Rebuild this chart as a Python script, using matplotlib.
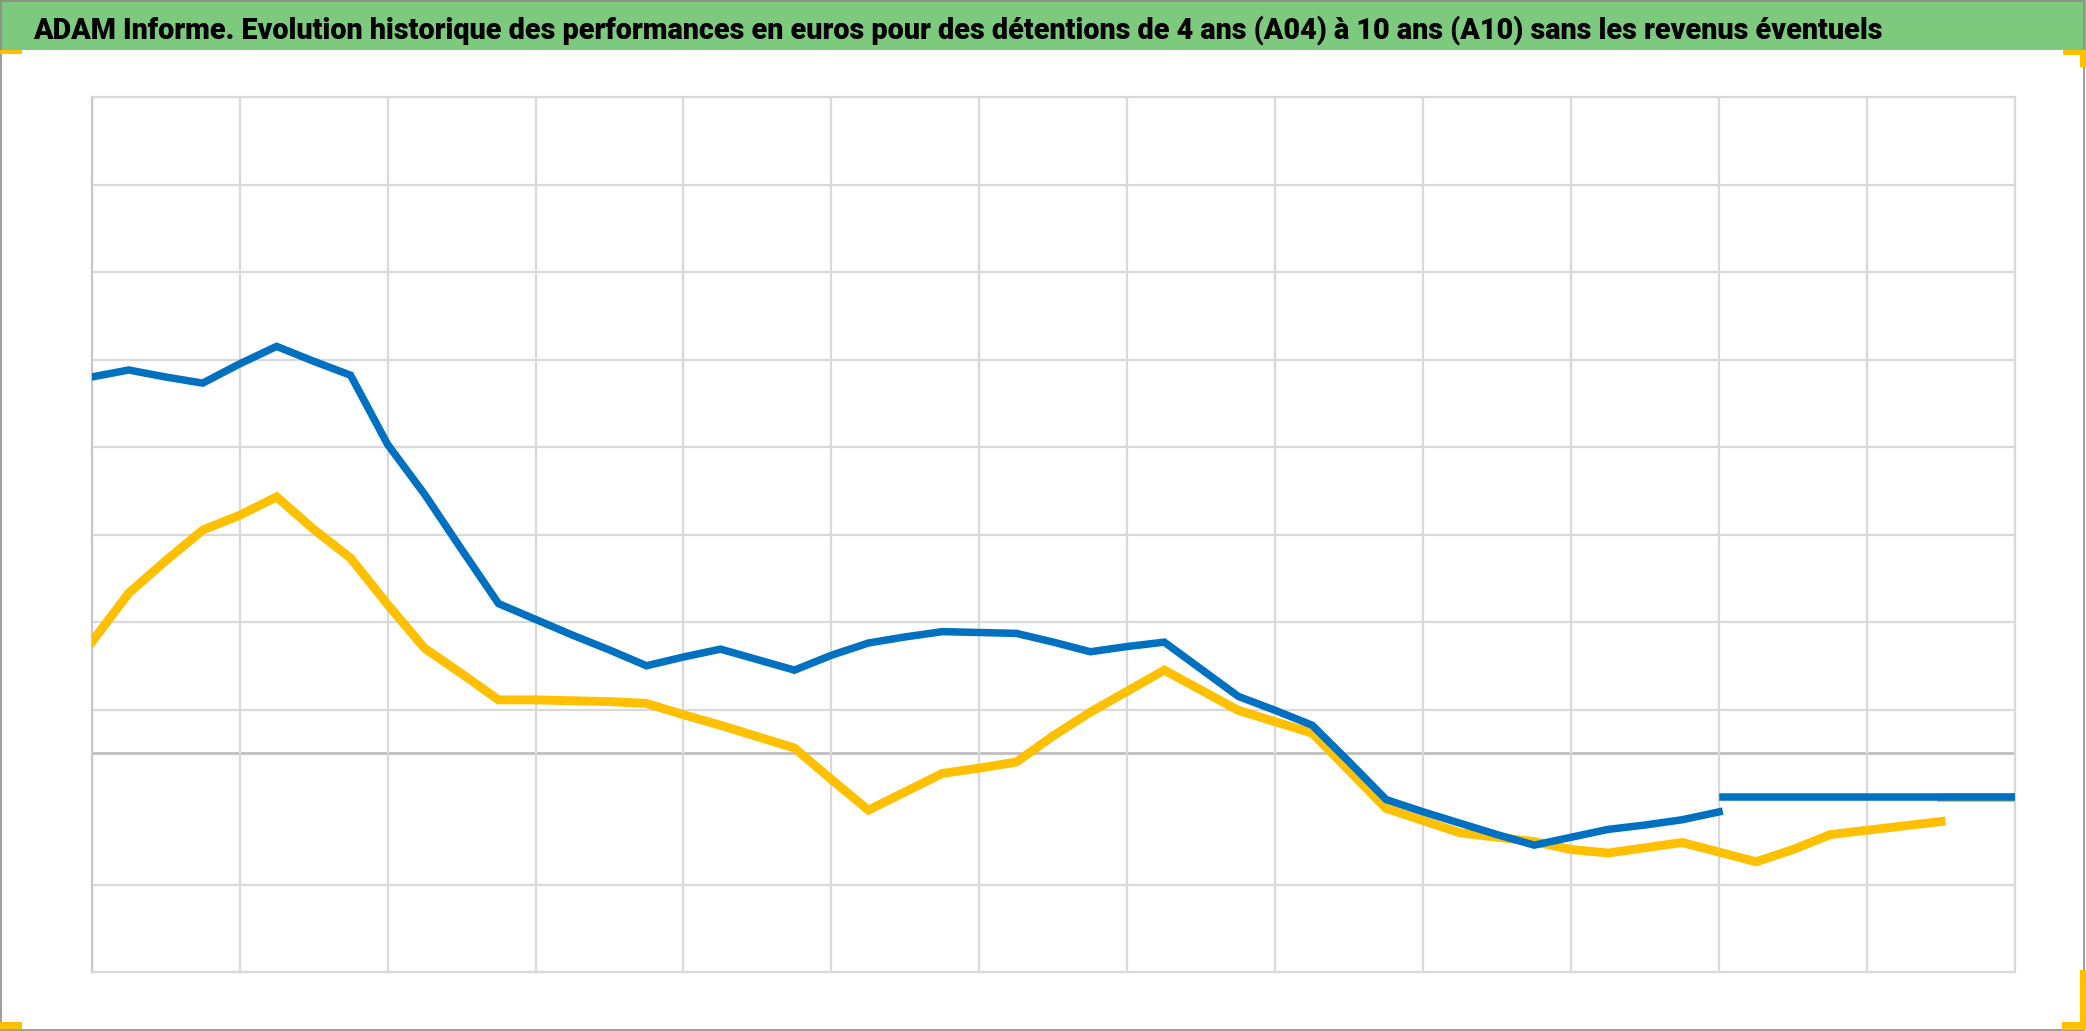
import numpy as np
import matplotlib
matplotlib.use("Agg")
import matplotlib.pyplot as plt
from matplotlib.patches import Rectangle

# titre du graphique
title_text = ("ADAM Informe. Evolution historique des performances en euros pour des "
              "détentions de 4 ans (A04) à 10 ans (A10) sans les revenus éventuels")

# valeurs trimestrielles (échelle sans étiquettes)
a04_values = [86.0, 87.6, 86.0, 84.6, 89.0, 93.0, 89.6, 86.4, 70.6, 59.2,
              46.6, 34.2, 30.6, 27.0, 23.6, 20.0, 22.0, 23.8, 21.4, 19.0,
              22.4, 25.2, 26.6, 27.8, 27.6, 27.4, 25.4, 23.2, 24.4, 25.4,
              19.2, 13.0, 9.8, 6.4, -2.0, -10.6, -13.4, -16.0, -18.6, -21.0,
              -19.2, -17.4, -16.4, -15.2, -13.4]
a10_values = [25.4, 36.6, 44.0, 51.0, 54.4, 58.6, 51.2, 44.6, 34.0, 24.0,
              18.2, 12.2, 12.2, 12.0, 11.8, 11.4, 8.8, 6.4, 3.8, 1.2,
              -6.0, -13.0, -8.8, -4.6, -3.4, -2.0, 4.0, 9.4, 14.2, 19.0,
              14.4, 9.8, 7.2, 4.6, -4.0, -12.6, -15.4, -18.2, -19.2, -20.2,
              -22.0, -22.8, -21.6, -20.4, -22.6, -24.8, -22.0, -18.6, -17.6, -16.6,
              -15.6]
# paliers de fin de série
a04_plateau_q = [44.1, 52]
a04_plateau = [-10, -10]
a10_plateau_q = [50, 52]
a10_plateau = [-10, -10]

y_grid = [-50, -30, 10, 30, 50, 70, 90, 110, 130, 150]
n_quarters = 52

BLUE = "#0070C0"
GOLD = "#FFC000"
GRID = "#D9D9D9"

W, H = 2086, 1031
fig = plt.figure(figsize=(W / 100, H / 100), dpi=100)

# bandeau vert + bordure
fig.patches.append(Rectangle((0, 1 - 50 / H), 1, 50 / H, transform=fig.transFigure,
                             facecolor="#7DC97E", edgecolor="none", zorder=0))
fig.patches.append(Rectangle((0.5 / W, 1.5 / H), 1 - 3 / W, 1 - 2.5 / H, transform=fig.transFigure,
                             facecolor="none", edgecolor="#8C8C8C", lw=1.2, zorder=1))

# coins orange
def px_rect(x, y, w, h):
    fig.patches.append(Rectangle((x / W, 1 - (y + h) / H), w / W, h / H,
                                 transform=fig.transFigure, facecolor=GOLD,
                                 edgecolor="none", zorder=2))

px_rect(0, 50, 22, 4)
px_rect(2063, 50, 23, 5)
px_rect(2080, 50, 6, 17)
px_rect(0, 1022, 22, 7)
px_rect(2080, 970, 6, 60)
px_rect(2062, 1022, 24, 8)

t = fig.text(33 / W, 1 - 38 / H, title_text, fontsize=28, fontweight="heavy",
             family=["Liberation Sans Narrow", "Roboto", "DejaVu Sans"],
             color="black", ha="left", va="baseline")
# ajuste la taille pour tenir dans la largeur du bandeau
fig.canvas.draw()
bb = t.get_window_extent()
t.set_fontsize(28 * (1844 / bb.width))

ax = fig.add_axes([91.7 / W, 1 - 972 / H, (2015 - 91.7) / W, (972 - 97) / H])
ax.set_xlim(0, n_quarters)
ax.set_ylim(-50, 150)
ax.set_xticks(np.arange(0, n_quarters + 1, 4))
ax.set_yticks(y_grid)
ax.grid(True, color=GRID, lw=1.6)
ax.tick_params(length=0, labelbottom=False, labelleft=False)
for s in ax.spines.values():
    s.set_color(GRID)
    s.set_linewidth(1.6)
ax.spines["left"].set_color("#C8C8C8")
ax.axhline(0, color="#BFBFBF", lw=2.0, zorder=1)

ax.plot(np.arange(len(a10_values)), a10_values, color=GOLD, lw=6.4,
        solid_joinstyle="miter", zorder=3)
ax.plot(a10_plateau_q, a10_plateau, color=GOLD, lw=6.4, zorder=3)
ax.plot(np.arange(len(a04_values)), a04_values, color=BLUE, lw=5.4,
        solid_joinstyle="miter", zorder=4)
ax.plot(a04_plateau_q, a04_plateau, color=BLUE, lw=5.4, zorder=4)

fig.savefig("out.png", dpi=100)
